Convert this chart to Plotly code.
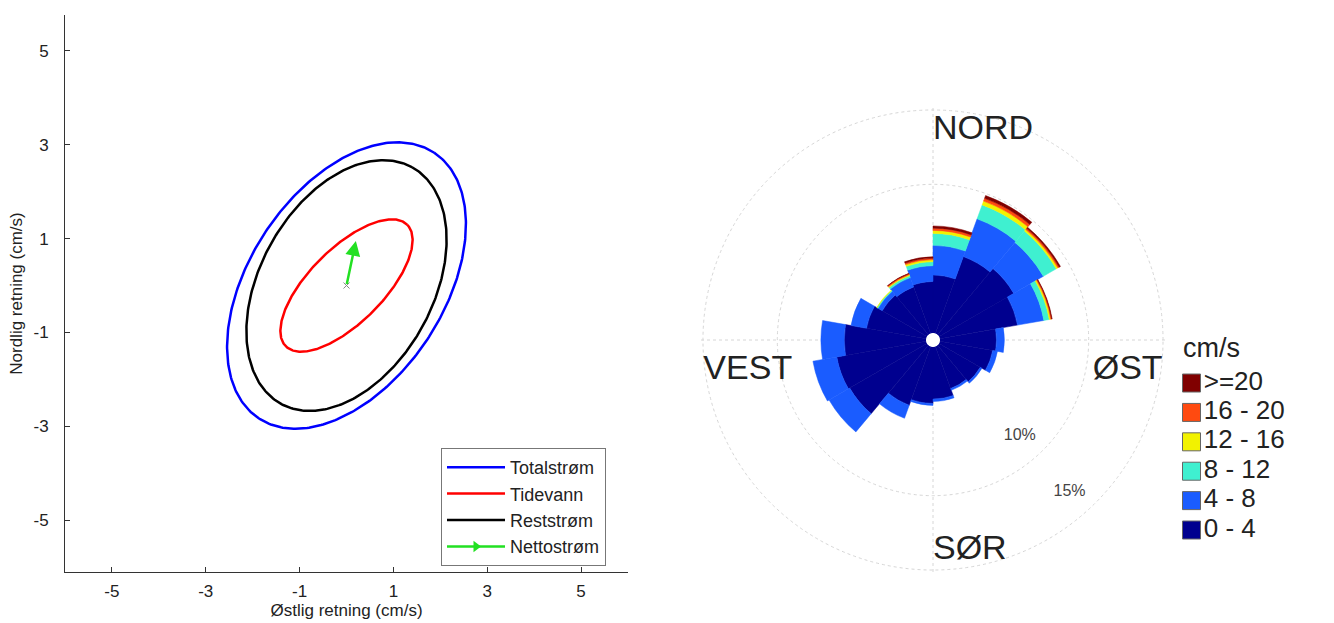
import numpy as np
import plotly.graph_objects as go

# ---------------- Left panel data: current ellipses ----------------
ELLIPSE_NAMES = ["Totalstrøm", "Tidevann", "Reststrøm"]
ELLIPSE_MAJOR = [3.39, 1.83, 2.88]      # semi-major axis (cm/s)
ELLIPSE_MINOR = [2.07, 0.79, 1.84]      # semi-minor axis (cm/s)
ELLIPSE_ANGLE = [56.5, 45.0, 60.8]      # orientation, degrees from east
ELLIPSE_COLORS = ["#0000ff", "#ff0000", "#000000"]
NET_NAME = "Nettostrøm"
NET_U = 0.2    # net current east component (cm/s)
NET_V = 0.95   # net current north component (cm/s)
AXIS_TICKS = [-5, -3, -1, 1, 3, 5]
AXIS_TICK_LABELS = ["-5", "-3", "-1", "1", "3", "5"]

# ---------------- Right panel data: current rose ----------------
SECTORS = [10, 30, 50, 70, 90, 110, 130, 150, 170, 190, 210, 230, 250, 270, 290, 310, 330, 350]
SECTOR_WIDTH = 20
SPEED_CLASSES = ["0 - 4", "4 - 8", "8 - 12", "12 - 16", "16 - 20", ">=20"]
FREQ_0_4   = [3.90, 5.50, 5.80, 5.30, 3.80, 3.60, 3.20, 3.00, 3.50, 3.80, 4.20, 6.00, 6.10, 5.50, 4.07, 3.47, 3.33, 3.47]
FREQ_4_8   = [2.00, 2.70, 2.30, 1.80, 0.53, 0.33, 0.13, 0.13, 0.17, 0.13, 0.93, 1.60, 1.63, 1.57, 1.06, 0.33, 0.67, 1.06]
FREQ_8_12  = [0.80, 1.00, 1.00, 0.37, 0.00, 0.00, 0.00, 0.00, 0.00, 0.00, 0.00, 0.00, 0.00, 0.00, 0.00, 0.07, 0.13, 0.27]
FREQ_12_16 = [0.20, 0.27, 0.13, 0.10, 0.00, 0.00, 0.00, 0.00, 0.00, 0.00, 0.00, 0.00, 0.00, 0.00, 0.00, 0.03, 0.07, 0.13]
FREQ_16_20 = [0.15, 0.20, 0.10, 0.06, 0.00, 0.00, 0.00, 0.00, 0.00, 0.00, 0.00, 0.00, 0.00, 0.00, 0.00, 0.00, 0.07, 0.10]
FREQ_GE_20 = [0.15, 0.20, 0.10, 0.04, 0.00, 0.00, 0.00, 0.00, 0.00, 0.00, 0.00, 0.00, 0.00, 0.00, 0.00, 0.00, 0.03, 0.10]
CLASS_COLORS = ["#00008f", "#1a5cff", "#3ff0d0", "#f2f200", "#ff4a10", "#800000"]
LEGEND_TITLE = "cm/s"
DIR_LABELS = ["NORD", "ØST", "SØR", "VEST"]
DIR_ANGLES = [0, 90, 180, 270]
RING_VALUES = [10, 15]
RING_LABELS = ["10%", "15%"]

FONT = "Liberation Sans, Arial, sans-serif"
W, H = 1334, 623

fig = go.Figure()

# ellipses
t = np.linspace(0, 2 * np.pi, 361)
for name, a, b, ang, col in zip(ELLIPSE_NAMES, ELLIPSE_MAJOR, ELLIPSE_MINOR, ELLIPSE_ANGLE, ELLIPSE_COLORS):
    th = np.deg2rad(ang)
    x = a * np.cos(t) * np.cos(th) - b * np.sin(t) * np.sin(th)
    y = a * np.cos(t) * np.sin(th) + b * np.sin(t) * np.cos(th)
    fig.add_trace(go.Scatter(x=x, y=y, mode="lines", name=name,
                             line=dict(color=col, width=2.5), legend="legend"))

# origin marker and net current legend entry
fig.add_trace(go.Scatter(x=[0], y=[0], mode="markers", showlegend=False,
                         marker=dict(symbol="x-thin", size=6, line=dict(color="#888888", width=1))))
fig.add_trace(go.Scatter(x=[None], y=[None], mode="lines+markers", name=NET_NAME,
                         line=dict(color="#22e022", width=2.5),
                         marker=dict(symbol="triangle-right", size=10, color="#22e022"),
                         legend="legend"))
fig.add_annotation(x=NET_U, y=NET_V, ax=0, ay=0, xref="x", yref="y", axref="x", ayref="y",
                   showarrow=True, arrowhead=2, arrowsize=1.2, arrowwidth=2.5,
                   arrowcolor="#22e022", text="")

# rose bars
freqs = [FREQ_0_4, FREQ_4_8, FREQ_8_12, FREQ_12_16, FREQ_16_20, FREQ_GE_20]
for cls, vals, col in zip(SPEED_CLASSES, freqs, CLASS_COLORS):
    fig.add_trace(go.Barpolar(r=vals, theta=SECTORS, width=[SECTOR_WIDTH] * len(SECTORS),
                              name=cls, marker=dict(color=col, line=dict(color=col, width=0.5)),
                              showlegend=False, subplot="polar"))

# direction labels & ring labels
fig.add_trace(go.Scatterpolar(r=[13.6, 15.0, 13.7, 15.0], theta=[0, 93.3, 180, 266.7], mode="text",
                              text=DIR_LABELS,
                              textposition=["middle right", "bottom left", "middle right", "bottom right"],
                              textfont=dict(size=34, color="#222222", family=FONT),
                              showlegend=False, subplot="polar"))
fig.add_trace(go.Scatterpolar(r=[v - 1.75 for v in RING_VALUES], theta=[138, 138], mode="text",
                              text=RING_LABELS, textfont=dict(size=16, color="#444444", family=FONT),
                              showlegend=False, subplot="polar"))

# colour key for the rose (class index on a hidden axis)
idx = list(range(len(SPEED_CLASSES)))
fig.add_trace(go.Scatter(x=[16.5] * len(idx), y=idx, mode="markers+text", xaxis="x2", yaxis="y2",
                         marker=dict(symbol="square", size=18, color=CLASS_COLORS,
                                     line=dict(color="#666666", width=1)),
                         text=SPEED_CLASSES, textposition="middle right",
                         textfont=dict(size=26, color="#222222", family=FONT),
                         showlegend=False, cliponaxis=False, hoverinfo="skip"))
fig.add_trace(go.Scatter(x=[8], y=[len(idx) + 0.13], mode="text", xaxis="x2", yaxis="y2",
                         text=[LEGEND_TITLE], textposition="middle right",
                         textfont=dict(size=27, color="#222222", family=FONT),
                         showlegend=False, cliponaxis=False, hoverinfo="skip"))

R_EXT = 15.2
R_PX = 233
CX, CY = 933, 340

fig.update_layout(
    width=W, height=H,
    margin=dict(l=0, r=0, t=0, b=0),
    paper_bgcolor="white", plot_bgcolor="white",
    font=dict(family=FONT, color="#222222"),
    showlegend=True,
    xaxis=dict(domain=[65 / W, 628 / W], range=[-6, 6], tickvals=AXIS_TICKS, ticktext=AXIS_TICK_LABELS,
               ticks="inside", ticklen=5, tickcolor="#333", showline=True, linecolor="#333",
               linewidth=1, showgrid=False, zeroline=False, tickfont=dict(size=17),
               ticklabelstandoff=4,
               title=dict(text="Østlig retning (cm/s)", font=dict(size=17), standoff=1)),
    yaxis=dict(domain=[1 - 572 / H, 1 - 15 / H], range=[-6.1, 5.76], tickvals=AXIS_TICKS, ticktext=AXIS_TICK_LABELS,
               ticks="inside", ticklen=5, tickcolor="#333", showline=True, linecolor="#333",
               linewidth=1, showgrid=False, zeroline=False, tickfont=dict(size=17),
               ticklabelstandoff=12,
               title=dict(text="Nordlig retning (cm/s)", font=dict(size=17), standoff=6)),
    xaxis2=dict(domain=[1175 / W, 1.0], range=[0, 159], visible=False, fixedrange=True),
    yaxis2=dict(domain=[1 - 544.7 / H, 1 - 336 / H], range=[-0.5, 6.6], visible=False, fixedrange=True),
    legend=dict(x=441 / W, y=1 - 448 / H, xanchor="left", yanchor="top",
                bgcolor="white", bordercolor="#777777", borderwidth=1,
                font=dict(size=18, color="#222"), tracegroupgap=0, itemwidth=58),
    polar=dict(
        domain=dict(x=[(CX - R_PX) / W, (CX + R_PX) / W], y=[1 - (CY + R_PX) / H, 1 - (CY - R_PX) / H]),
        bgcolor="white", hole=0.03, barmode="stack",
        radialaxis=dict(range=[0, R_EXT], tickvals=RING_VALUES, showticklabels=False, ticks="",
                        showline=False, gridcolor="#d6d6d6", griddash="dot", gridwidth=1),
        angularaxis=dict(rotation=90, direction="clockwise", tickvals=DIR_ANGLES,
                         showticklabels=False, ticks="", showline=False,
                         gridcolor="#d6d6d6", griddash="dot", gridwidth=1),
    ),
)

fig.write_html("out.html", config={"displayModeBar": False},
               post_script="document.body.style.margin='0px';document.body.style.overflow='hidden';")
